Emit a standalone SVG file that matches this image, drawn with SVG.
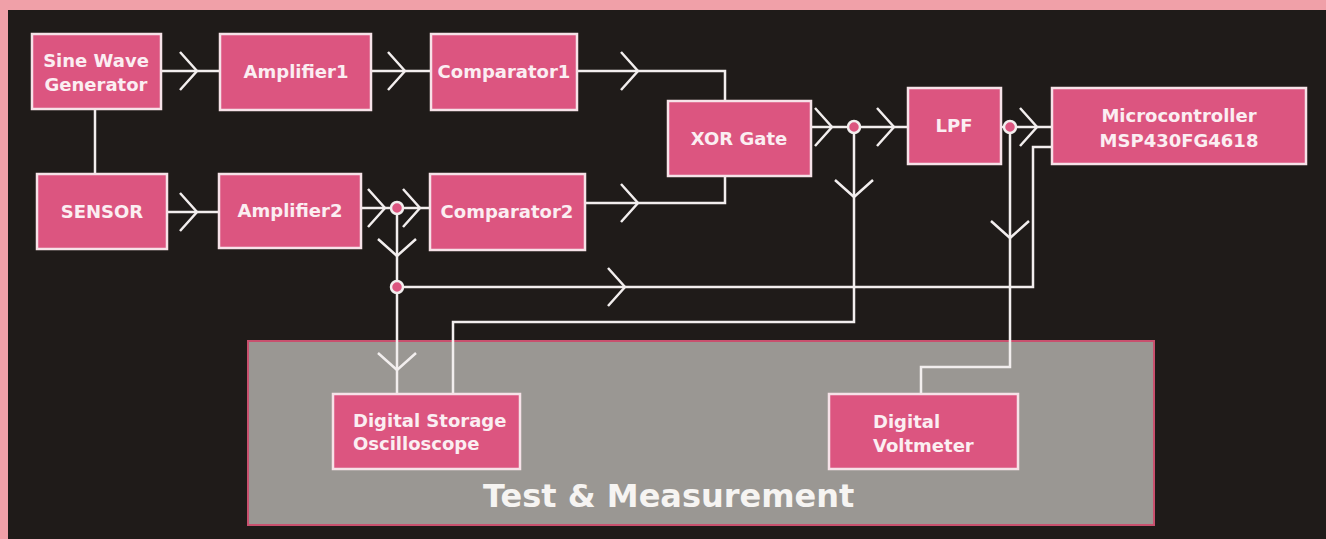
<svg xmlns="http://www.w3.org/2000/svg" xmlns:xlink="http://www.w3.org/1999/xlink" width="1326" height="539" viewBox="0 0 1326 539">
<style>
.box{fill:#dc5580;stroke:#f6e2e8;stroke-width:2.5}
.lbl{font-family:"DejaVu Sans",sans-serif;font-weight:bold;font-size:18px;fill:#fbeef2}
.mid{text-anchor:middle}
.ln{fill:none;stroke:#f2eeee;stroke-width:2.5;stroke-linejoin:miter}
.dot{fill:#dc5580;stroke:#f2eeee;stroke-width:2.5}
</style>
<defs>
<path id="chev" d="M-17,-19 L0,0 L-17,19" fill="none" stroke="#f2eeee" stroke-width="2.5"/>
</defs>
<rect x="0" y="0" width="1326" height="539" fill="#f0a0a8"/>
<rect x="8" y="10" width="1318" height="529" fill="#1f1b19"/>
<g id="test-measurement">
<rect x="248" y="341" width="906" height="184" fill="#9a9793" stroke="#c8506e" stroke-width="2"/>
<text x="483" y="507" style="font-family:'DejaVu Sans',sans-serif;font-weight:bold;font-size:32px;fill:#f6f4f2">Test &amp; Measurement</text>
</g>
<g id="connectors">
<path class="ln" d="M95,109 V174"/>
<path class="ln" d="M161,71 H220"/>
<path class="ln" d="M371,71 H431"/>
<path class="ln" d="M577,71 H725 V101"/>
<path class="ln" d="M167,212 H219"/>
<path class="ln" d="M361,208 H430"/>
<path class="ln" d="M585,203 H725 V176"/>
<path class="ln" d="M397,208 V394"/>
<path class="ln" d="M397,287 H1033 V147 H1052"/>
<path class="ln" d="M811,127 H908"/>
<path class="ln" d="M854,127 V322 H453 V394"/>
<path class="ln" d="M1001,127 H1052"/>
<path class="ln" d="M1010,127 V367 H921 V394"/>
<use xlink:href="#chev" transform="translate(197,71)"/>
<use xlink:href="#chev" transform="translate(405,71)"/>
<use xlink:href="#chev" transform="translate(638,71)"/>
<use xlink:href="#chev" transform="translate(197,212)"/>
<use xlink:href="#chev" transform="translate(385,208)"/>
<use xlink:href="#chev" transform="translate(420,208)"/>
<use xlink:href="#chev" transform="translate(638,203)"/>
<use xlink:href="#chev" transform="translate(625,287)"/>
<use xlink:href="#chev" transform="translate(832,127)"/>
<use xlink:href="#chev" transform="translate(894,127)"/>
<use xlink:href="#chev" transform="translate(1037,127)"/>
<use xlink:href="#chev" transform="translate(397,256) rotate(90)"/>
<use xlink:href="#chev" transform="translate(397,370) rotate(90)"/>
<use xlink:href="#chev" transform="translate(854,197) rotate(90)"/>
<use xlink:href="#chev" transform="translate(1010,238) rotate(90)"/>
<circle class="dot" cx="397" cy="208" r="6"/>
<circle class="dot" cx="397" cy="287" r="6"/>
<circle class="dot" cx="854" cy="127" r="6"/>
<circle class="dot" cx="1010" cy="127" r="6"/>
</g>
<g id="sine-wave-generator">
<rect class="box" x="32" y="34" width="129" height="75"/>
<text class="lbl mid" x="96" y="67">Sine Wave</text>
<text class="lbl mid" x="96" y="91">Generator</text>
</g>
<g id="amplifier1">
<rect class="box" x="220" y="34" width="151" height="76"/>
<text class="lbl mid" x="296" y="78">Amplifier1</text>
</g>
<g id="comparator1">
<rect class="box" x="431" y="34" width="146" height="76"/>
<text class="lbl mid" x="504" y="78">Comparator1</text>
</g>
<g id="sensor">
<rect class="box" x="37" y="174" width="130" height="75"/>
<text class="lbl mid" x="102" y="218">SENSOR</text>
</g>
<g id="amplifier2">
<rect class="box" x="219" y="174" width="142" height="74"/>
<text class="lbl mid" x="290" y="217">Amplifier2</text>
</g>
<g id="comparator2">
<rect class="box" x="430" y="174" width="155" height="76"/>
<text class="lbl mid" x="507" y="218">Comparator2</text>
</g>
<g id="xor-gate">
<rect class="box" x="668" y="101" width="143" height="75"/>
<text class="lbl mid" x="739" y="145">XOR Gate</text>
</g>
<g id="lpf">
<rect class="box" x="908" y="88" width="93" height="76"/>
<text class="lbl mid" x="954" y="132">LPF</text>
</g>
<g id="microcontroller">
<rect class="box" x="1052" y="88" width="254" height="76"/>
<text class="lbl mid" x="1179" y="122">Microcontroller</text>
<text class="lbl mid" x="1179" y="147">MSP430FG4618</text>
</g>
<g id="digital-storage-oscilloscope">
<rect class="box" x="333" y="394" width="187" height="75"/>
<text class="lbl" x="353" y="427">Digital Storage</text>
<text class="lbl" x="353" y="450">Oscilloscope</text>
</g>
<g id="digital-voltmeter">
<rect class="box" x="829" y="394" width="189" height="75"/>
<text class="lbl" x="873" y="428">Digital</text>
<text class="lbl" x="873" y="452">Voltmeter</text>
</g>
</svg>
